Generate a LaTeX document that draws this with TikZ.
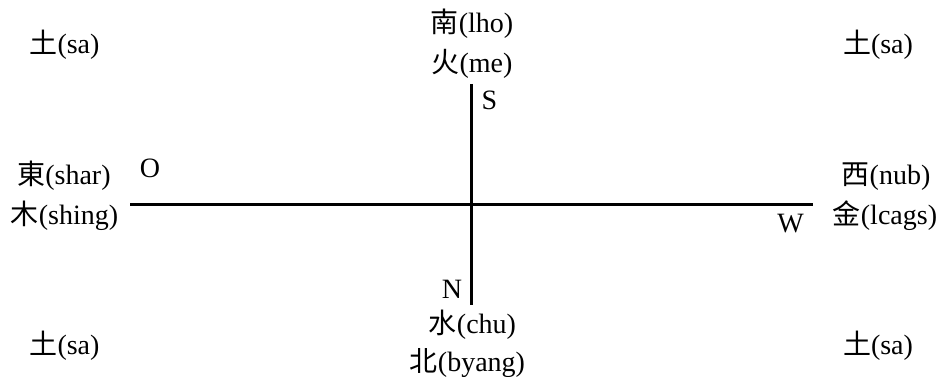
\documentclass[tikz,border=0pt]{standalone}
\usepackage{fontspec}
\setmainfont{Liberation Serif}
\newfontfamily\cjkfont{Noto Sans CJK SC}[FakeBold=0]
\newcommand{\zh}[1]{{\cjkfont #1}}
\begin{document}
\begin{tikzpicture}[x=1pt,y=-1pt,
  lbl/.style={anchor=base,inner sep=0pt,font=\fontsize{28}{34}\selectfont},
  axis/.style={line width=2.2pt}]
\useasboundingbox (0,0) rectangle (942,377);
% corners
\node[lbl] (tl) at (64.5,54) {\zh{土}(sa)};
\node[lbl] (tr) at (878,54) {\zh{土}(sa)};
\node[lbl] (bl) at (64.5,354) {\zh{土}(sa)};
\node[lbl] (br) at (878,354) {\zh{土}(sa)};
% top
\node[lbl] (south1) at (472,33) {\zh{南}(lho)};
\node[lbl] (south2) at (472,73) {\zh{火}(me)};
\node[lbl] (S) at (489.5,110) {S};
% left
\node[lbl] (east1) at (64,184) {\zh{東}(shar)};
\node[lbl] (east2) at (64.5,224) {\zh{木}(shing)};
\node[lbl] (O) at (150,177) {O};
% right
\node[lbl] (west1) at (886,184) {\zh{西}(nub)};
\node[lbl] (west2) at (885,224) {\zh{金}(lcags)};
\node[lbl] (W) at (790.5,232) {W};
% bottom
\node[lbl] (N) at (452,298) {N};
\node[lbl] (north1) at (472.5,333) {\zh{水}(chu)};
\node[lbl] (north2) at (467.5,371) {\zh{北}(byang)};
% axes
\coordinate (vt) at (471.5,84);
\coordinate (vb) at (471.5,305);
\coordinate (hl) at (130,204.5);
\coordinate (hr) at (812.5,204.5);
\draw[axis] (vt) -- (vb);
\draw[axis] (hl) -- (hr);
\end{tikzpicture}
\end{document}
